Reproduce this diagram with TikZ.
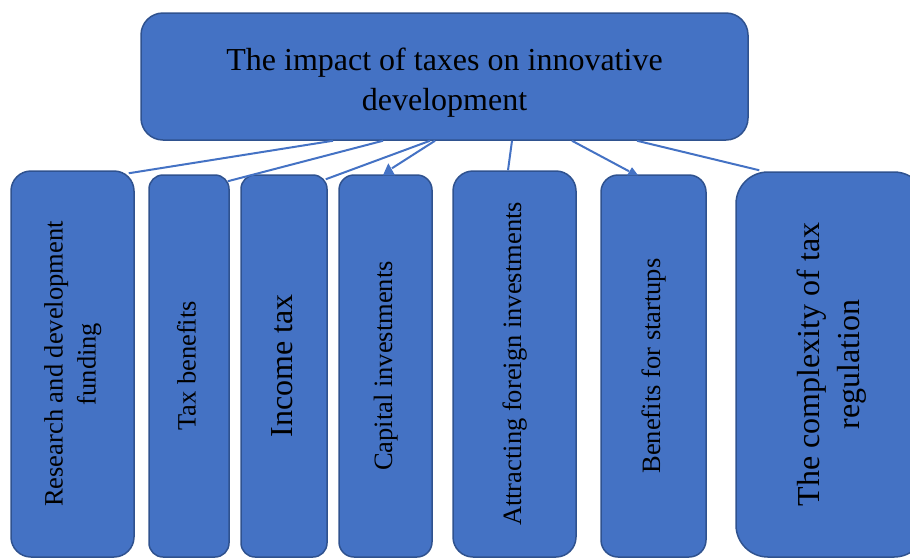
\documentclass[tikz,border=0pt]{standalone}
\usepackage{fontspec}
\setmainfont{Liberation Serif}
\usepackage{graphicx}
\usetikzlibrary{calc}

\definecolor{boxblue}{HTML}{4472C4}
\definecolor{edgeblue}{HTML}{2F528F}

\newcommand{\vlabel}[1]{\rotatebox{90}{\begin{tabular}{@{}c@{}}#1\end{tabular}}}
\newcommand{\hlabel}[1]{\raisebox{-6pt}[\height][\depth]{\begin{tabular}{@{}c@{}}#1\end{tabular}}}

\begin{document}
\begin{tikzpicture}[x=1pt, y=-1pt,
  box/.style={draw=edgeblue, fill=boxblue, line width=1.5pt, inner sep=0pt,
    font=\fontsize{26.5}{33}\selectfont},
  big/.style={font=\fontsize{32}{40}\selectfont},
  link/.style={draw=boxblue, line width=2pt},
  tipmark/.style={fill=boxblue},
]
\useasboundingbox (0,0) rectangle (910,558);

\node[box, big, minimum width=607pt, minimum height=127pt,
  rounded corners=22pt] (imp) at (444.5,76.5)
  {\hlabel{The impact of taxes on innovative\\development}};

\node[box, minimum width=123pt, minimum height=386pt, rounded corners=20pt]
  (rnd) at (72.5,364) {\vlabel{Research and development\\funding}};
\node[box, minimum width=80pt, minimum height=382pt, rounded corners=14pt]
  (tax) at (189,366) {\vlabel{Tax benefits}};
\node[box, big, minimum width=86pt, minimum height=382pt, rounded corners=14pt]
  (inc) at (284,366) {\vlabel{Income tax}};
\node[box, minimum width=93pt, minimum height=382pt, rounded corners=15pt]
  (cap) at (385.5,366) {\vlabel{Capital investments}};
\node[box, minimum width=123pt, minimum height=386pt, rounded corners=20pt]
  (att) at (514.5,364) {\vlabel{Attracting foreign investments}};
\node[box, minimum width=105pt, minimum height=382pt, rounded corners=17pt]
  (sup) at (653.5,366) {\vlabel{Benefits for startups}};
\node[box, big, minimum width=190pt, minimum height=385pt, rounded corners=32pt]
  (cpx) at (831,364.5) {\vlabel{The complexity of tax\\regulation}};

% connectors
\draw[link] ($(imp.south)+(-111.5,0)$) -- ($(rnd.north east)+(-6,3)$);
\draw[link] ($(imp.south)+(-61.5,0)$) -- ($(tax.north east)+(-2,7)$);
\draw[link] ($(imp.south)+(-14.5,0)$) -- ($(inc.north east)+(-2,5)$);
\draw[link] ($(imp.south)+(-9.5,0)$) -- ($(cap.north)+(6.5,-6)$);
\draw[link] ($(imp.south)+(67.5,0)$) -- ($(att.north)+(-6.5,0)$);
\draw[link] ($(imp.south)+(127.5,0)$) -- ($(sup.north)+(-24.5,-3)$);
\draw[link] ($(imp.south)+(192.5,0)$) -- ($(cpx.north west)+(24,-1)$);

\fill[tipmark] ($(cap.north)+(-2.5,1)$) -- ($(cap.north)+(2.8,-11)$)
  -- ($(cap.north)+(9.5,1)$) -- cycle;
\fill[tipmark] ($(sup.north)+(-26.5,1)$) -- ($(sup.north)+(-21.5,-7)$)
  -- ($(sup.north)+(-15.5,1)$) -- cycle;
\end{tikzpicture}
\end{document}
